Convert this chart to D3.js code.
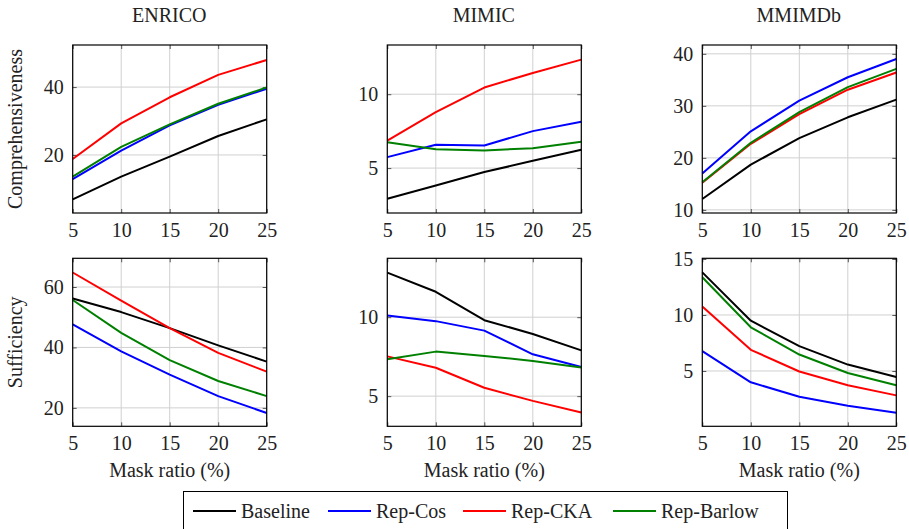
<!DOCTYPE html>
<meta charset="utf-8">
<script src="https://d3js.org/d3.v7.min.js"></script>
<style>
    body { margin: 0; background: #fff; }
    svg text { font-family: "Liberation Serif", "Times New Roman", "Noto Serif", "DejaVu Serif", serif !important; fill: #222; }
</style>
<div id="chart"></div>
<script>

    // data
    var maskRatios = [5, 10, 15, 20, 25];
    var datasets = ["ENRICO", "MIMIC", "MMIMDb"];
    var metrics = ["Comprehensiveness", "Sufficiency"];
    var methods = ["Baseline", "Rep-Cos", "Rep-CKA", "Rep-Barlow"];

    // comprehensiveness, one list per method
    var enricoComp = {
        "Baseline": [6.9, 13.6, 19.5, 25.6, 30.5],
        "Rep-Cos": [12.9, 21.3, 28.7, 34.8, 39.5],
        "Rep-CKA": [18.8, 29.3, 37.0, 43.6, 48.0],
        "Rep-Barlow": [13.6, 22.4, 29.0, 35.1, 39.9]
    };
    var mimicComp = {
        "Baseline": [2.93, 3.82, 4.73, 5.49, 6.24],
        "Rep-Cos": [5.74, 6.58, 6.53, 7.5, 8.13],
        "Rep-CKA": [6.86, 8.78, 10.45, 11.44, 12.34],
        "Rep-Barlow": [6.75, 6.28, 6.19, 6.35, 6.78]
    };
    var mmimdbComp = {
        "Baseline": [12.1, 18.7, 23.8, 27.8, 31.2],
        "Rep-Cos": [17.0, 25.1, 31.0, 35.5, 39.0],
        "Rep-CKA": [15.2, 22.7, 28.4, 33.1, 36.4],
        "Rep-Barlow": [15.3, 22.9, 28.8, 33.6, 37.1]
    };
    // sufficiency
    var enricoSuff = {
        "Baseline": [56.2, 51.7, 46.4, 40.7, 35.3],
        "Rep-Cos": [47.6, 38.7, 31.0, 23.9, 18.3],
        "Rep-CKA": [64.8, 55.5, 46.4, 38.2, 32.0],
        "Rep-Barlow": [55.7, 44.8, 35.8, 28.9, 23.9]
    };
    var mimicSuff = {
        "Baseline": [12.82, 11.61, 9.81, 8.94, 7.9],
        "Rep-Cos": [10.1, 9.75, 9.15, 7.65, 6.84],
        "Rep-CKA": [7.52, 6.8, 5.53, 4.7, 3.96],
        "Rep-Barlow": [7.33, 7.82, 7.55, 7.23, 6.82]
    };
    var mmimdbSuff = {
        "Baseline": [13.8, 9.49, 7.22, 5.57, 4.46],
        "Rep-Cos": [6.77, 3.99, 2.7, 1.89, 1.26],
        "Rep-CKA": [10.75, 6.89, 4.95, 3.72, 2.82],
        "Rep-Barlow": [13.37, 8.9, 6.47, 4.82, 3.72]
    };

    // axis limits and tick labels per panel (row, col)
    var yLimits = [
        [[2.9, 52.4], [1.96, 13.33], [9.4, 41.7]],
        [[13.9, 69.5], [3.09, 13.73], [0.06, 15.06]]
    ];
    var yTicks = [
        [[20, 40], [5, 10], [10, 20, 30, 40]],
        [[20, 40, 60], [5, 10], [5, 10, 15]]
    ];
    var panelData = [
        [enricoComp, mimicComp, mmimdbComp],
        [enricoSuff, mimicSuff, mmimdbSuff]
    ];

    var color = d3.scaleOrdinal()
        .domain(methods)
        .range(["#000000", "#0000ff", "#ff0000", "#008000"]);

    var W = 909, H = 529;
    var panelW = 194, panelH = 168;
    var lefts = [72.7, 387.3, 702.3];
    var tops = [45, 258.3];
    var serif = "'Liberation Serif', 'Times New Roman', 'Noto Serif', 'DejaVu Serif', serif";

    var svg = d3.select("#chart")
        .append("svg")
        .attr("width", W)
        .attr("height", H)
        .attr("font-family", serif);

    var x = d3.scaleLinear()
        .domain([5, 25])
        .range([0, panelW]);

    metrics.forEach(function (metric, r) {
        datasets.forEach(function (name, c) {
            var g = svg.append("g")
                .attr("transform", "translate(" + lefts[c] + "," + tops[r] + ")");

            var y = d3.scaleLinear()
                .domain(yLimits[r][c])
                .range([panelH, 0]);

            // grid
            g.append("g")
                .selectAll("line")
                .data(maskRatios)
                .enter().append("line")
                .attr("x1", function (d) { return x(d); })
                .attr("x2", function (d) { return x(d); })
                .attr("y1", 0).attr("y2", panelH)
                .attr("stroke", "#d0d0d0").attr("stroke-width", 1);
            g.append("g")
                .selectAll("line")
                .data(yTicks[r][c])
                .enter().append("line")
                .attr("x1", 0).attr("x2", panelW)
                .attr("y1", function (d) { return y(d); })
                .attr("y2", function (d) { return y(d); })
                .attr("stroke", "#d0d0d0").attr("stroke-width", 1);

            // axes with inward ticks on both sides
            g.append("g")
                .attr("transform", "translate(0," + panelH + ")")
                .call(d3.axisBottom(x).tickValues(maskRatios).tickSize(-4).tickPadding(10).tickSizeOuter(0));
            g.append("g")
                .call(d3.axisTop(x).tickValues(maskRatios).tickSize(-4).tickFormat("").tickSizeOuter(0));
            g.append("g")
                .call(d3.axisLeft(y).tickValues(yTicks[r][c]).tickSize(-4).tickPadding(9).tickSizeOuter(0));
            g.append("g")
                .attr("transform", "translate(" + panelW + ",0)")
                .call(d3.axisRight(y).tickValues(yTicks[r][c]).tickSize(-4).tickFormat("").tickSizeOuter(0));

            g.selectAll(".domain").remove();
            g.selectAll(".tick line").attr("stroke", "#555");
            g.selectAll("g").attr("font-family", serif).attr("font-size", 20);
            g.selectAll(".tick text").attr("fill", "#222");

            // lines
            var line = d3.line()
                .x(function (d, i) { return x(maskRatios[i]); })
                .y(function (d) { return y(d); });

            g.append("g")
                .selectAll("path")
                .data(methods)
                .enter().append("path")
                .attr("d", function (m) { return line(panelData[r][c][m]); })
                .attr("fill", "none")
                .attr("stroke", function (m) { return color(m); })
                .attr("stroke-width", 2)
                .attr("stroke-linejoin", "round");

            // frame
            g.append("rect")
                .attr("width", panelW).attr("height", panelH)
                .attr("fill", "none").attr("stroke", "#000").attr("stroke-width", 1.2);

            if (r === 0) {
                svg.append("text")
                    .attr("x", lefts[c] + panelW / 2 - 0.5)
                    .attr("y", 22)
                    .attr("text-anchor", "middle")
                    .attr("font-size", 20)
                    .text(name);
            } else {
                svg.append("text")
                    .attr("x", lefts[c] + panelW / 2)
                    .attr("y", 477)
                    .attr("text-anchor", "middle")
                    .attr("font-size", 20)
                    .text("Mask ratio (%)");
            }
            if (c === 0) {
                svg.append("text")
                    .attr("transform", "translate(22," + (tops[r] + 84) + ") rotate(-90)")
                    .attr("text-anchor", "middle")
                    .attr("font-size", 20)
                    .text(metric);
            }
        });
    });

    // legend
    var legend = svg.append("g");
    legend.append("rect")
        .attr("x", 183.5).attr("y", 491.5)
        .attr("width", 604).attr("height", 40)
        .attr("fill", "#fff").attr("stroke", "#000").attr("stroke-width", 1);

    var legendX = [193, 328, 463, 613];
    var item = legend.selectAll("g.item")
        .data(methods)
        .enter().append("g")
        .attr("class", "item")
        .attr("transform", function (d, i) { return "translate(" + legendX[i] + ",511)"; });
    item.append("line")
        .attr("x1", 0).attr("x2", 43)
        .attr("stroke", function (d) { return color(d); })
        .attr("stroke-width", 2);
    item.append("text")
        .attr("x", 48).attr("y", 7)
        .attr("font-size", 20)
        .text(function (d) { return d; });

</script>
